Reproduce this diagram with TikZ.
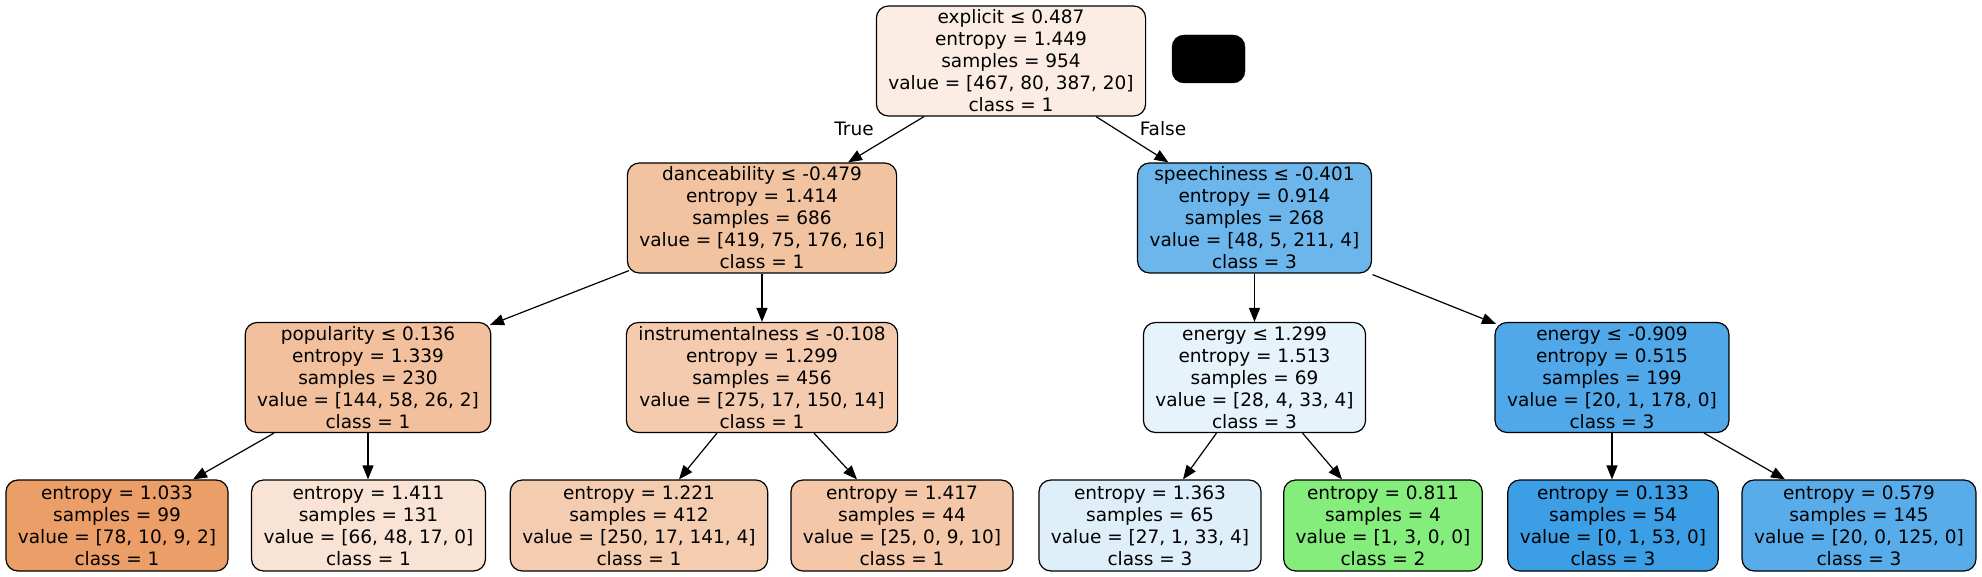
\documentclass[tikz,border=0pt]{standalone}
\usepackage{fontspec}
\setmainfont{DejaVu Sans}
\usetikzlibrary{arrows.meta}
\definecolor{cRoot}{HTML}{FBEDE3}
\definecolor{cDance}{HTML}{F2C3A0}
\definecolor{cSpeech}{HTML}{6CB6EB}
\definecolor{cPop}{HTML}{F2C09C}
\definecolor{cInstr}{HTML}{F4CBAE}
\definecolor{cEnA}{HTML}{E6F3FB}
\definecolor{cEnB}{HTML}{50A8E8}
\definecolor{cLa}{HTML}{EB9E67}
\definecolor{cLb}{HTML}{F9E3D4}
\definecolor{cLc}{HTML}{F4CCAF}
\definecolor{cLd}{HTML}{F3C7A7}
\definecolor{cLe}{HTML}{DFEFFA}
\definecolor{cLf}{HTML}{84ED7B}
\definecolor{cLg}{HTML}{3C9EE5}
\definecolor{cLh}{HTML}{58ACE9}
\begin{document}
\begin{tikzpicture}[x=1pt,y=-1pt,
  tnode/.style={draw=black, line width=1.2pt, rounded corners=12pt, align=center,
    inner xsep=12pt, inner ysep=0pt, font=\fontsize{18.5}{22}\selectfont},
  inode/.style={tnode, minimum height=110pt},
  lnode/.style={tnode, minimum height=91pt},
  edge/.style={line width=1.2pt, -{Triangle[length=14pt,width=11pt]}},
  lbl/.style={font=\fontsize{18.5}{22}\selectfont, inner sep=0pt}]
\useasboundingbox (0,0) rectangle (1982,577);

% level 1
\node[inode, fill=cRoot] (root) at (1011,61) {explicit ≤ 0.487\\entropy = 1.449\\samples = 954\\value = [467, 80, 387, 20]\\class = 1};
\node[draw=black, fill=black, rounded corners=12pt, minimum width=73pt, minimum height=48pt, inner sep=0pt] (legend) at (1208.5,59) {};

% level 2
\node[inode, fill=cDance] (dance) at (762,218) {danceability ≤ -0.479\\entropy = 1.414\\samples = 686\\value = [419, 75, 176, 16]\\class = 1};
\node[inode, fill=cSpeech] (speech) at (1254.5,218) {speechiness ≤ -0.401\\entropy = 0.914\\samples = 268\\value = [48, 5, 211, 4]\\class = 3};

% level 3
\node[inode, fill=cPop] (pop) at (368,377.5) {popularity ≤ 0.136\\entropy = 1.339\\samples = 230\\value = [144, 58, 26, 2]\\class = 1};
\node[inode, fill=cInstr] (instr) at (762,377.5) {instrumentalness ≤ -0.108\\entropy = 1.299\\samples = 456\\value = [275, 17, 150, 14]\\class = 1};
\node[inode, fill=cEnA] (enA) at (1254.5,377.5) {energy ≤ 1.299\\entropy = 1.513\\samples = 69\\value = [28, 4, 33, 4]\\class = 3};
\node[inode, fill=cEnB] (enB) at (1612,377.5) {energy ≤ -0.909\\entropy = 0.515\\samples = 199\\value = [20, 1, 178, 0]\\class = 3};

% leaves
\node[lnode, fill=cLa] (la) at (117,525.5) {entropy = 1.033\\samples = 99\\value = [78, 10, 9, 2]\\class = 1};
\node[lnode, fill=cLb] (lb) at (368.5,525.5) {entropy = 1.411\\samples = 131\\value = [66, 48, 17, 0]\\class = 1};
\node[lnode, fill=cLc] (lc) at (639,525.5) {entropy = 1.221\\samples = 412\\value = [250, 17, 141, 4]\\class = 1};
\node[lnode, fill=cLd] (ld) at (902,525.5) {entropy = 1.417\\samples = 44\\value = [25, 0, 9, 10]\\class = 1};
\node[lnode, fill=cLe] (le) at (1150,525.5) {entropy = 1.363\\samples = 65\\value = [27, 1, 33, 4]\\class = 3};
\node[lnode, fill=cLf] (lf) at (1383,525.5) {entropy = 0.811\\samples = 4\\value = [1, 3, 0, 0]\\class = 2};
\node[lnode, fill=cLg] (lg) at (1613,525.5) {entropy = 0.133\\samples = 54\\value = [0, 1, 53, 0]\\class = 3};
\node[lnode, fill=cLh] (lh) at (1859,525.5) {entropy = 0.579\\samples = 145\\value = [20, 0, 125, 0]\\class = 3};

% edges
\draw[edge] ([xshift=-87pt]root.south) -- ([xshift=86pt]dance.north);
\draw[edge] ([xshift=85pt]root.south) -- ([xshift=-86pt]speech.north);
\node[lbl] (ltrue) at (854,129) {True};
\node[lbl] (lfalse) at (1163,129) {False};

\draw[edge] ([xshift=-133pt,yshift=3pt]dance.south) -- ([xshift=122pt,yshift=-3pt]pop.north);
\draw[edge] (dance.south) -- (instr.north);
\draw[edge] (speech.south) -- (enA.north);
\draw[edge] ([xshift=118pt,yshift=-1pt]speech.south) -- ([xshift=-116pt,yshift=-2pt]enB.north);

\draw[edge] ([xshift=-94pt]pop.south) -- ([xshift=76pt]la.north);
\draw[edge] (pop.south) -- (pop.south |- lb.north);
\draw[edge] ([xshift=-45pt]instr.south) -- ([xshift=40pt]lc.north);
\draw[edge] ([xshift=52pt]instr.south) -- ([xshift=-45pt]ld.north);
\draw[edge] ([xshift=-38pt]enA.south) -- ([xshift=33pt]le.north);
\draw[edge] ([xshift=48pt]enA.south) -- ([xshift=-41pt]lf.north);
\draw[edge] (enB.south) -- (enB.south |- lg.north);
\draw[edge] ([xshift=92pt]enB.south) -- ([xshift=-74pt]lh.north);
\end{tikzpicture}
\end{document}
